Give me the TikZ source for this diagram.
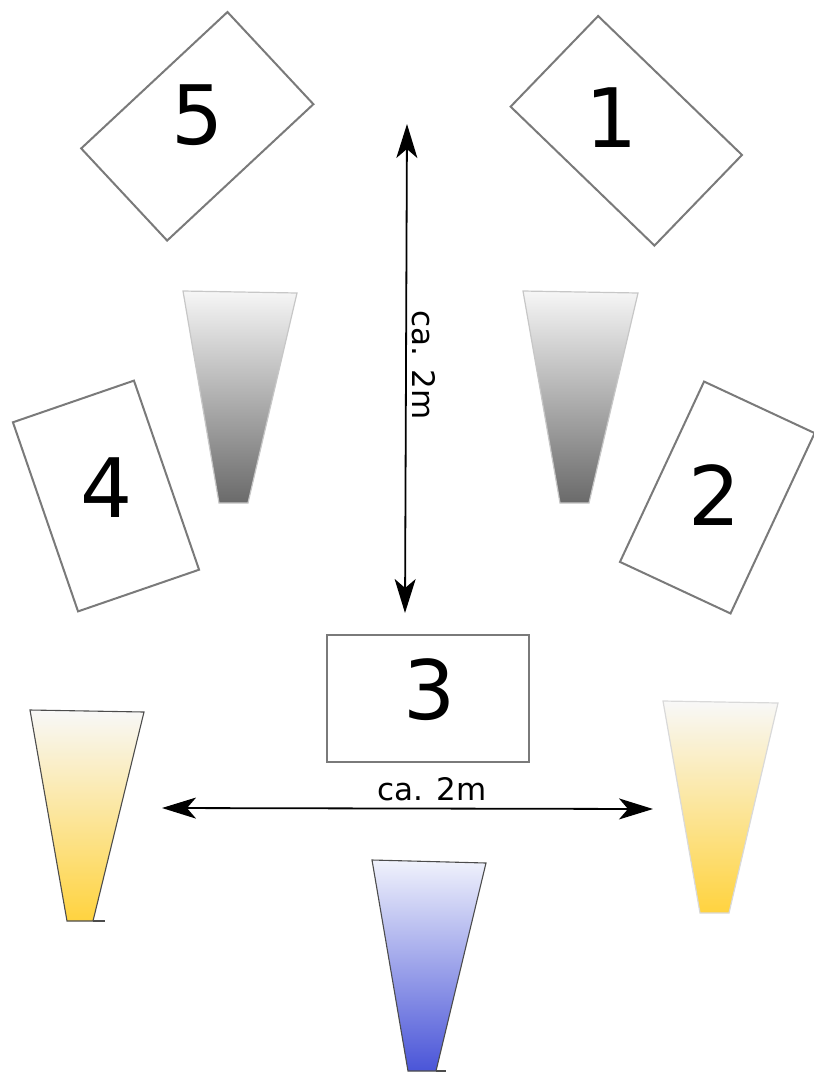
\documentclass[tikz,border=0pt]{standalone}
\usepackage{fontspec}
\setmainfont{DejaVu Sans}
\usetikzlibrary{arrows.meta}
\definecolor{frame}{HTML}{7A7A7A}
\definecolor{lampgrayT}{HTML}{F6F6F6}
\definecolor{lampgrayB}{HTML}{6A6A6A}
\definecolor{lampyelT}{HTML}{F8F8F8}
\definecolor{lampyelB}{HTML}{FFD33F}
\definecolor{lampbluT}{HTML}{F0F2FC}
\definecolor{lampbluB}{HTML}{4A55D8}
\tikzset{
  panel/.style={draw=frame, line width=2pt, fill=white, inner sep=0pt,
    minimum width=200pt, minimum height=126pt},
  num/.style={font=\fontsize{82}{90}\selectfont, inner sep=0pt},
  dim/.style={line width=1.8pt, {Stealth[length=34pt,width=21pt,inset=9pt]}-{Stealth[length=34pt,width=21pt,inset=9pt]}},
  dimlabel/.style={font=\fontsize{31}{36}\selectfont, inner sep=0pt},
  graylamp/.style={draw=black!22, line width=1.2pt, top color=lampgrayT, bottom color=lampgrayB},
  yellamp/.style={draw=black!70, line width=1.1pt, top color=lampyelT, bottom color=lampyelB},
  yellampsoft/.style={draw=black!15, line width=1.2pt, top color=lampyelT, bottom color=lampyelB},
  blulamp/.style={draw=black!70, line width=1.1pt, top color=lampbluT, bottom color=lampbluB},
  foot/.style={draw=black!70, line width=1.1pt}
}
\begin{document}
\begin{tikzpicture}[x=1pt, y=-1pt]
  \useasboundingbox (0,0) rectangle (814,1072);

  % numbered positions
  \node[panel, rotate=43] (r5) at (197.3,126.3) {};
  \node[panel, rotate=-44] (r1) at (626.3,130.8) {};
  \node[panel, minimum width=128pt, minimum height=200pt, rotate=19] (r4) at (106,496) {};
  \node[panel, minimum width=122pt, minimum height=199pt, rotate=-25] (r2) at (717.3,497.5) {};
  \node[panel, minimum width=202pt, minimum height=127pt] (r3) at (428,698.5) {};

  \node[num] (n5) at (198,115) {5};
  \node[num] (n1) at (612,118) {1};
  \node[num] (n4) at (107,488) {4};
  \node[num] (n2) at (715,495) {2};
  \node[num] (n3) at (430,690) {3};

  % lamps
  \path[graylamp] (183,291) -- (297,293) -- (248,503) -- (219,503) -- cycle;
  \path[graylamp] (523,291) -- (638,293) -- (589,503) -- (560,503) -- cycle;
  \path[yellamp] (30,710) -- (144,712) -- (93,921) -- (67,921) -- cycle;
  \draw[foot] (93,921) -- (105,921);
  \path[yellampsoft] (663,701) -- (778,703) -- (729,913) -- (700,913) -- cycle;
  \path[blulamp] (372,860) -- (486,863) -- (436,1071) -- (408,1071) -- cycle;
  \draw[foot] (436,1071) -- (446,1071);

  % distances
  \coordinate (vtop) at (407,124);
  \coordinate (vbot) at (405,613);
  \draw[dim] (vtop) -- (vbot);
  \node[dimlabel, rotate=-90] (vlab) at (424,365) {ca. 2m};

  \coordinate (hleft) at (162,808);
  \coordinate (hright) at (653,809);
  \draw[dim] (hleft) -- (hright);
  \node[dimlabel] (hlab) at (432,789) {ca. 2m};
\end{tikzpicture}
\end{document}
